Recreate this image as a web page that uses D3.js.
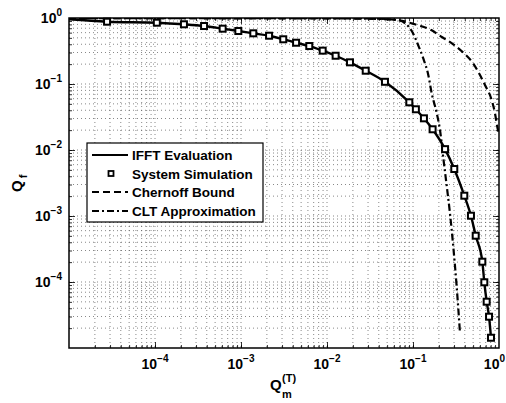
<!DOCTYPE html>
<html><head><meta charset="utf-8">
<script src="https://cdn.jsdelivr.net/npm/d3@7"></script>
<style>
html,body{margin:0;padding:0;background:#fff;}
svg text{font-family:"Liberation Sans",Arial,Helvetica,sans-serif;font-weight:bold;fill:#000;}
</style></head>
<body>
<svg id="chart" width="506" height="403"></svg>
<script>
// ---- data ----
const ifftX = [1e-5, 2.77e-5, 1.05e-4, 2.17e-4, 3.72e-4, 6.12e-4, 9.31e-4, 1.39e-3, 2.12e-3, 3.10e-3, 4.37e-3, 6.22e-3, 8.91e-3, 1.26e-2, 1.85e-2, 2.82e-2, 4.72e-2, 9.06e-2, 0.108, 0.134, 0.169, 0.236, 0.302, 0.395, 0.472, 0.536, 0.640, 0.675, 0.719, 0.766, 0.807];
const ifftY = [0.955, 0.879, 0.849, 0.803, 0.756, 0.689, 0.635, 0.586, 0.539, 0.476, 0.422, 0.376, 0.320, 0.268, 0.213, 0.159, 0.108, 0.0528, 0.0414, 0.0302, 0.0206, 0.0103, 5.15e-3, 2.03e-3, 1.01e-3, 5.03e-4, 2.03e-4, 9.9e-5, 5.03e-5, 2.98e-5, 1.43e-5];
const simX = [2.77e-5, 1.05e-4, 2.17e-4, 3.72e-4, 6.12e-4, 9.31e-4, 1.39e-3, 2.12e-3, 3.10e-3, 4.37e-3, 6.22e-3, 8.91e-3, 1.26e-2, 1.85e-2, 2.82e-2, 4.72e-2, 9.06e-2, 0.108, 0.134, 0.169, 0.236, 0.302, 0.395, 0.472, 0.536, 0.640, 0.675, 0.719, 0.766, 0.807];
const simY = [0.879, 0.849, 0.803, 0.756, 0.689, 0.635, 0.586, 0.539, 0.476, 0.422, 0.376, 0.320, 0.268, 0.213, 0.159, 0.108, 0.0528, 0.0414, 0.0302, 0.0206, 0.0103, 5.15e-3, 2.03e-3, 1.01e-3, 5.03e-4, 2.03e-4, 9.9e-5, 5.03e-5, 2.98e-5, 1.43e-5];
const chernoffX = [1e-5, 0.0124, 0.0316, 0.0652, 0.105, 0.165, 0.216, 0.294, 0.385, 0.494, 0.590, 0.687, 0.822, 0.898, 0.955, 1.0];
const chernoffY = [0.997, 0.99, 0.98, 0.933, 0.803, 0.651, 0.515, 0.400, 0.298, 0.210, 0.143, 0.0966, 0.0572, 0.036, 0.0225, 0.0169];
const cltX = [1e-5, 0.0124, 0.0316, 0.0652, 0.0822, 0.0982, 0.115, 0.132, 0.151, 0.165, 0.189, 0.206, 0.229, 0.242, 0.269, 0.294, 0.322, 0.352];
const cltY = [0.993, 0.985, 0.975, 0.933, 0.820, 0.614, 0.386, 0.242, 0.135, 0.0723, 0.036, 0.0201, 6.29e-3, 3.51e-3, 1.10e-3, 3.43e-4, 8.5e-5, 1.67e-5];
const xTickExps = [-4, -3, -2, -1, 0];
const yTickExps = [0, -1, -2, -3, -4];
const legendLabels = ["IFFT Evaluation", "System Simulation", "Chernoff Bound", "CLT Approximation"];

// ---- layout ----
const svg = d3.select("#chart");
const L = 69, T = 18, R = 499, B = 348;
const x = d3.scaleLog().domain([1e-5, 1]).range([L, R]);
const y = d3.scaleLog().domain([1e-5, 1]).range([B, T]);

const defs = svg.append("defs");
defs.append("clipPath").attr("id", "clip").append("rect")
  .attr("x", L).attr("y", T).attr("width", R - L).attr("height", B - T);

// grid (major + minor, dotted)
const gridVals = [];
for (let e = -5; e < 0; e++) for (let k = 1; k <= 9; k++) gridVals.push(k * Math.pow(10, e));
const grid = svg.append("g");
grid.selectAll("line.gx").data(gridVals.filter(v => v > 1e-5)).join("line")
  .attr("x1", d => x(d)).attr("x2", d => x(d)).attr("y1", T).attr("y2", B)
  .attr("stroke", "#555").attr("stroke-width", 0.7).attr("stroke-dasharray", "1,3");
grid.selectAll("line.gy").data(gridVals.filter(v => v > 1e-5)).join("line")
  .attr("y1", d => y(d)).attr("y2", d => y(d)).attr("x1", L).attr("x2", R)
  .attr("stroke", "#555").attr("stroke-width", 0.7).attr("stroke-dasharray", "1,3");

// inward ticks via d3 axes
const minorVals = gridVals.filter(v => v > 1e-5 && v < 1);
function tickAxis(axisFn, scale, transform, size, vals) {
  svg.append("g").attr("transform", transform)
    .call(axisFn(scale).tickValues(vals).tickSize(size).tickFormat(""))
    .call(g => g.select(".domain").remove())
    .call(g => g.selectAll("line").attr("stroke", "#000").attr("stroke-width", 0.8));
}
tickAxis(d3.axisBottom, x, `translate(0,${B})`, -3, minorVals);
tickAxis(d3.axisTop, x, `translate(0,${T})`, -3, minorVals);
tickAxis(d3.axisLeft, y, `translate(${L},0)`, -3, minorVals);
tickAxis(d3.axisRight, y, `translate(${R},0)`, -3, minorVals);
const majorVals = [1e-4, 1e-3, 1e-2, 1e-1];
tickAxis(d3.axisBottom, x, `translate(0,${B})`, -6, majorVals);
tickAxis(d3.axisTop, x, `translate(0,${T})`, -6, majorVals);
tickAxis(d3.axisLeft, y, `translate(${L},0)`, -6, majorVals);
tickAxis(d3.axisRight, y, `translate(${R},0)`, -6, majorVals);

// curves
const plot = svg.append("g").attr("clip-path", "url(#clip)");
const line = d3.line().x(d => x(d[0])).y(d => y(d[1])).curve(d3.curveMonotoneX);
plot.append("path").datum(chernoffX.map((v, i) => [v, chernoffY[i]]))
  .attr("d", line).attr("fill", "none").attr("stroke", "#000").attr("stroke-width", 2.2)
  .attr("stroke-dasharray", "7,4");
plot.append("path").datum(cltX.map((v, i) => [v, cltY[i]]))
  .attr("d", line).attr("fill", "none").attr("stroke", "#000").attr("stroke-width", 2.2)
  .attr("stroke-dasharray", "7,3,2,3");
plot.append("path").datum(ifftX.map((v, i) => [v, ifftY[i]]))
  .attr("d", line).attr("fill", "none").attr("stroke", "#000").attr("stroke-width", 2.4);
svg.append("g").selectAll("rect").data(simX.map((v, i) => [v, simY[i]])).join("rect")
  .attr("x", d => x(d[0]) - 3).attr("y", d => y(d[1]) - 3)
  .attr("width", 6).attr("height", 6)
  .attr("fill", "#fff").attr("stroke", "#000").attr("stroke-width", 2);

// frame
svg.append("rect").attr("x", L).attr("y", T).attr("width", R - L).attr("height", B - T)
  .attr("fill", "none").attr("stroke", "#000").attr("stroke-width", 1.5);

// tick labels
const xl = svg.append("g");
xTickExps.forEach(e => {
  const last = e === 0;
  const t = xl.append("text").attr("x", last ? 505 : x(Math.pow(10, e))).attr("y", 369)
    .attr("text-anchor", last ? "end" : "middle").style("font-size", "14px");
  t.append("tspan").text("10");
  t.append("tspan").attr("dy", -7).style("font-size", "10px").text(e === 0 ? "0" : "\u2212" + (-e));
});
yTickExps.forEach(e => {
  const t = xl.append("text").attr("x", 62).attr("y", y(Math.pow(10, e)) + 5)
    .attr("text-anchor", "end").style("font-size", "14px");
  t.append("tspan").text("10");
  t.append("tspan").attr("dy", -7).style("font-size", "10px").text(e === 0 ? "0" : "\u2212" + (-e));
});

// axis labels
svg.append("text").attr("x", 270).attr("y", 390).style("font-size", "15px").text("Q");
svg.append("text").attr("x", 282).attr("y", 382).style("font-size", "11px").text("(T)");
svg.append("text").attr("x", 282).attr("y", 398).style("font-size", "11px").text("m");
const yl = svg.append("text").attr("transform", "translate(22,192) rotate(-90)").style("font-size", "15px");
yl.append("tspan").text("Q");
yl.append("tspan").attr("dy", 5).attr("dx", 2).style("font-size", "11px").text("f");

// legend
const lg = svg.append("g");
lg.append("rect").attr("x", 87).attr("y", 143).attr("width", 176).attr("height", 79)
  .attr("fill", "#fff").attr("stroke", "#000").attr("stroke-width", 1.2);
const rowY = [155, 173.5, 192, 211];
const dashes = [null, null, "7,4", "7,3,2,3"];
legendLabels.forEach((lab, i) => {
  if (i === 1) {
    lg.append("rect").attr("x", 108.5).attr("y", rowY[i] - 2.5).attr("width", 5).attr("height", 5)
      .attr("fill", "#fff").attr("stroke", "#000").attr("stroke-width", 1.8);
  } else {
    lg.append("line").attr("x1", 92).attr("x2", 128).attr("y1", rowY[i]).attr("y2", rowY[i])
      .attr("stroke", "#000").attr("stroke-width", 2.2).attr("stroke-dasharray", dashes[i]);
  }
  lg.append("text").attr("x", 132).attr("y", rowY[i] + 5).style("font-size", "13.5px").text(lab);
});
</script>
</body></html>
